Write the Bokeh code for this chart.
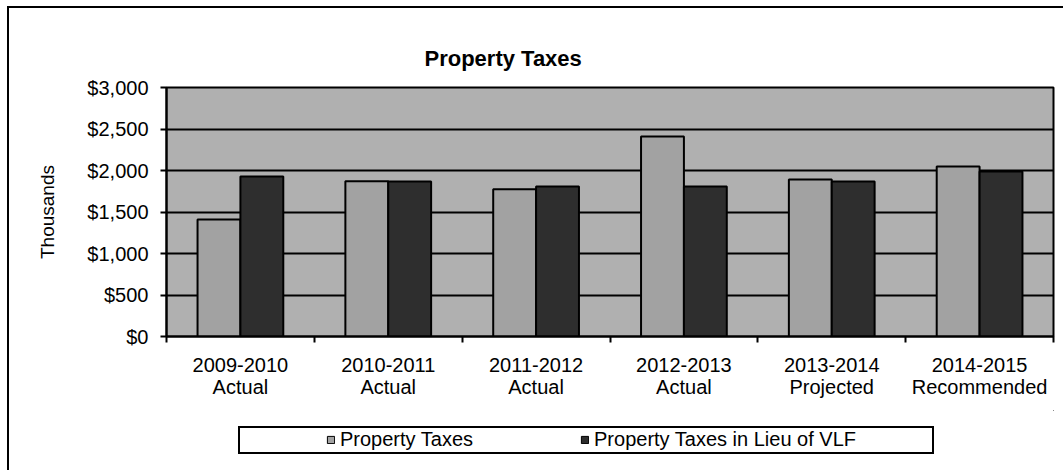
from bokeh.plotting import figure
from bokeh.layouts import column
from bokeh.models import (FixedTicker, Range1d, Legend, LegendItem, InlineStyleSheet,
                          NumeralTickFormatter, ColumnDataSource)
from bokeh.embed import file_html
from bokeh.resources import INLINE
import numpy as np

categories = ["2009-2010\nActual", "2010-2011\nActual", "2011-2012\nActual",
              "2012-2013\nActual", "2013-2014\nProjected", "2014-2015\nRecommended"]
property_taxes = [1410, 1870, 1775, 2410, 1892, 2048]
property_taxes_vlf = [1928, 1867, 1807, 1807, 1867, 1988]
series_names = ["Property Taxes", "Property Taxes in Lieu of VLF"]
y_ticks = [0, 500, 1000, 1500, 2000, 2500, 3000]

FONT = "Liberation Sans"
LIGHT, DARK = "#a2a2a2", "#2e2e2e"
idx = np.arange(len(categories))
src = ColumnDataSource(dict(
    x1=idx + 0.5 - 0.145, x2=idx + 0.5 + 0.145,
    a=property_taxes, b=property_taxes_vlf))

p = figure(width=1063, height=410, output_backend="svg", toolbar_location=None,
           x_range=Range1d(0, len(categories)), y_range=Range1d(0, 3000),
           min_border_left=166, min_border_right=10, min_border_top=87, min_border_bottom=74)
p.background_fill_color = "#b0b0b0"
p.border_fill_alpha = 0
p.outline_line_color = "black"
p.outline_line_width = 2

p.vbar(x="x1", top="a", width=0.29, source=src, fill_color=LIGHT,
       line_color="black", line_width=2)
p.vbar(x="x2", top="b", width=0.29, source=src, fill_color=DARK,
       line_color="black", line_width=2)

# title
p.title.text = "Property Taxes"
p.title.align = "left"
p.title.offset = 258
p.title.standoff = 34
p.title.text_font = FONT
p.title.text_font_size = "22px"
p.title.text_font_style = "bold"
p.title.text_color = "black"

# grid
p.xgrid.visible = False
p.ygrid.ticker = FixedTicker(ticks=y_ticks)
p.ygrid.grid_line_color = "black"
p.ygrid.grid_line_width = 2

# y axis
p.yaxis.ticker = FixedTicker(ticks=y_ticks)
p.yaxis.formatter = NumeralTickFormatter(format="$0,0")
p.yaxis.major_label_text_font = FONT
p.yaxis.major_label_text_font_size = "20px"
p.yaxis.major_label_text_color = "black"
p.yaxis.major_tick_out = 6
p.yaxis.major_tick_in = 0
p.yaxis.minor_tick_line_color = None
p.yaxis.major_label_standoff = 12
p.yaxis.axis_line_color = "black"
p.yaxis.axis_line_width = 2
p.yaxis.major_tick_line_width = 2
p.yaxis.axis_label = "Thousands"
p.yaxis.axis_label_text_font = FONT
p.yaxis.axis_label_text_font_size = "19px"
p.yaxis.axis_label_text_font_style = "normal"
p.yaxis.axis_label_text_color = "black"
p.yaxis.axis_label_standoff = 26

# x axis: labels at centres, ticks at boundaries
centers = list(idx + 0.5)
p.xaxis.ticker = FixedTicker(ticks=centers, minor_ticks=list(range(len(categories) + 1)))
p.xaxis.major_label_overrides = {float(c): lab for c, lab in zip(centers, categories)}
p.xaxis.major_tick_line_color = None
p.xaxis.major_tick_out = 0
p.xaxis.major_tick_in = 0
p.xaxis.minor_tick_out = 6
p.xaxis.minor_tick_in = 0
p.xaxis.minor_tick_line_color = "black"
p.xaxis.minor_tick_line_width = 2
p.xaxis.axis_line_color = "black"
p.xaxis.axis_line_width = 2
p.xaxis.major_label_text_font = FONT
p.xaxis.major_label_text_font_size = "20px"
p.xaxis.major_label_text_color = "black"
p.xaxis.major_label_standoff = 11
p.xaxis.major_label_text_line_height = 1.0

# legend strip below the chart (same horizontal borders as the chart)
p2 = figure(width=1063, height=60, output_backend="svg", toolbar_location=None,
            x_range=Range1d(0, 1), y_range=Range1d(0, 1),
            x_axis_type=None, y_axis_type=None,
            min_border_left=166, min_border_right=10, min_border_top=0, min_border_bottom=0)
p2.grid.visible = False
p2.background_fill_alpha = 0
p2.border_fill_alpha = 0
p2.outline_line_color = None
# legend swatch renderers (their single point lies outside the strip's view)
l1 = p2.vbar(x=[5], top=[5], bottom=[4], width=1, fill_color=LIGHT, line_color="black", line_width=1)
l2 = p2.vbar(x=[5], top=[5], bottom=[4], width=1, fill_color=DARK, line_color="black", line_width=1)
legend = Legend(items=[LegendItem(label=series_names[0], renderers=[l1]),
                       LegendItem(label=series_names[1], renderers=[l2])],
                orientation="horizontal", location=(158, 17),
                padding=2, spacing=107, margin=0,
                glyph_width=9, glyph_height=9, label_standoff=5,
                label_text_font=FONT, label_text_font_size="20px",
                label_text_color="black",
                border_line_alpha=0, background_fill_alpha=0)
p2.add_layout(legend, "center")

lay = column(p, p2, spacing=0)
lay.stylesheets = [InlineStyleSheet(css="""
:host { position: relative; }
:host::before {
  content: ""; position: absolute; left: 7px; top: 6px; width: 1080px; height: 500px;
  border-top: 2px solid black; border-left: 2px solid black;
  pointer-events: none; z-index: 10;
}
:host::after {
  content: ""; position: absolute; left: 238px; top: 426px; width: 692px; height: 24px;
  border: 2px solid black; pointer-events: none; z-index: 10;
}
""")]

open("out.html", "w").write(file_html(lay, INLINE))
